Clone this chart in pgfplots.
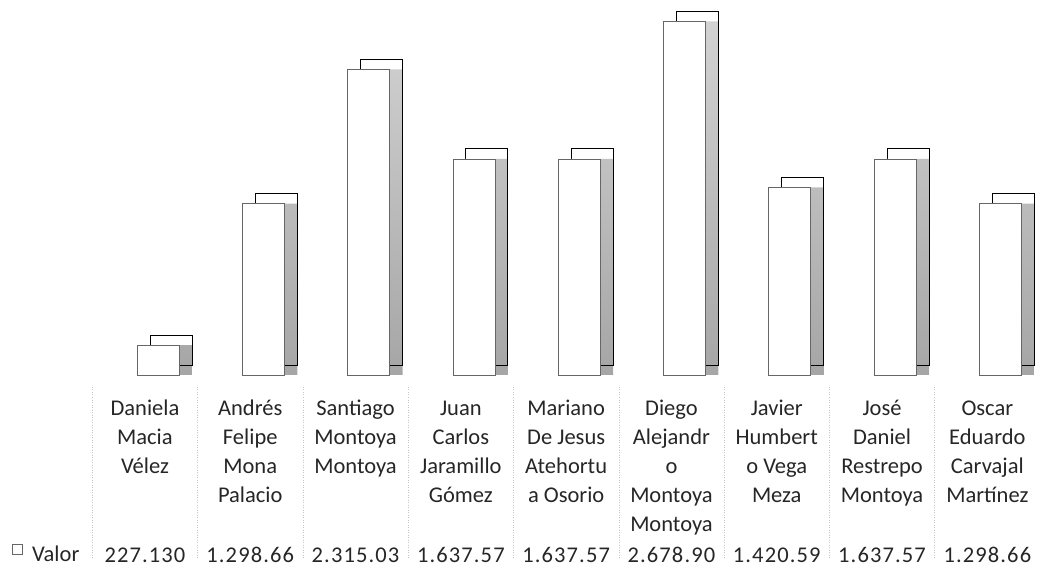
\documentclass[border=0pt]{standalone}
\usepackage{fontspec}
\setmainfont{Carlito}
\usepackage{pgfplots}
\usepackage{pgfplotstable}
\pgfplotsset{compat=1.18}
\pgfplotstableread{
x y
0 227.13
1 1298.66
2 2315.03
3 1637.57
4 1637.57
5 2678.90
6 1420.59
7 1637.57
8 1298.66
}\datatable
\begin{document}
\begin{tikzpicture}
\useasboundingbox (0,0) rectangle (1040pt,567pt);
\begin{axis}[
  at={(92.3pt,192pt)}, anchor=south west,
  scale only axis, width=947.7pt, height=369.6pt,
  xmin=-0.5, xmax=8.5, ymin=0, ymax=2800,
  clip=false,
  axis line style={draw=none},
  ytick=\empty,
  xtick={0,...,8},
  major tick length=0pt,
  xtick style={draw=none},
  xticklabels={
    {\strut Daniela\\Macia\\Vélez},
    {\strut Andrés\\Felipe\\Mona\\Palacio},
    {\strut Santiago\\Montoya\\Montoya},
    {\strut Juan\\Carlos\\Jaramillo\\Gómez},
    {\strut Mariano\\De Jesus\\Atehortu\\a Osorio},
    {\strut Diego\\Alejandr\\o\\Montoya\\Montoya},
    {\strut Javier\\Humbert\\o Vega\\Meza},
    {\strut José\\Daniel\\Restrepo\\Montoya},
    {\strut Oscar\\Eduardo\\Carvajal\\Martínez}},
  xticklabel style={font=\fontsize{22.5}{29.2}\selectfont, align=center, anchor=north, inner sep=0pt, yshift=-19.5pt, text=black!85},
  extra x ticks={0,...,8},
  extra x tick labels={227.130,1.298.66,2.315.03,1.637.57,1.637.57,2.678.90,1.420.59,1.637.57,1.298.66},
  extra x tick style={xticklabel style={anchor=base, yshift=-167.8pt, font=\fontsize{22.5}{29}\selectfont\addfontfeature{LetterSpace=5}}},
  legend style={draw=none, fill=none, at={(0,0)}, anchor=south west, xshift=-80pt, yshift=-190.5pt, font=\fontsize{22.5}{29}\selectfont, inner sep=0pt, column sep=7pt, text=black!85},
  legend image code/.code={\draw[black!60, line width=0.7pt, fill=white] (0pt,0pt) rectangle (10pt,10pt);},
]
\pgfplotsinvokeforeach{-0.5,0.5,1.5,2.5,3.5,4.5,5.5,6.5,7.5,8.5}{
  \draw[gray!45, line width=0.5pt, dotted] (axis cs:#1,0) ++(0pt,-12pt) -- ++(0pt,-172pt);
}
% back face (fill)
\addplot[ybar, forget plot, bar width=42pt, bar shift=26pt, yshift=10pt, fill=white, draw=none] table[x=x,y=y] {\datatable};
% side face
\addplot[ybar, forget plot, bar width=13pt, bar shift=40.5pt, draw=none, top color=gray!35, bottom color=gray!70] table[x=x,y=y] {\datatable};
% back outline
\addplot[ybar, forget plot, bar width=42pt, bar shift=26pt, yshift=10pt, fill=none, draw=black, line width=0.9pt] table[x=x,y=y] {\datatable};
% front face
\addplot[ybar, bar width=42pt, bar shift=13pt, fill=white, draw=black!60, line width=0.6pt] table[x=x,y=y] {\datatable};
\addlegendentry{Valor}
\end{axis}
\end{tikzpicture}
\end{document}
